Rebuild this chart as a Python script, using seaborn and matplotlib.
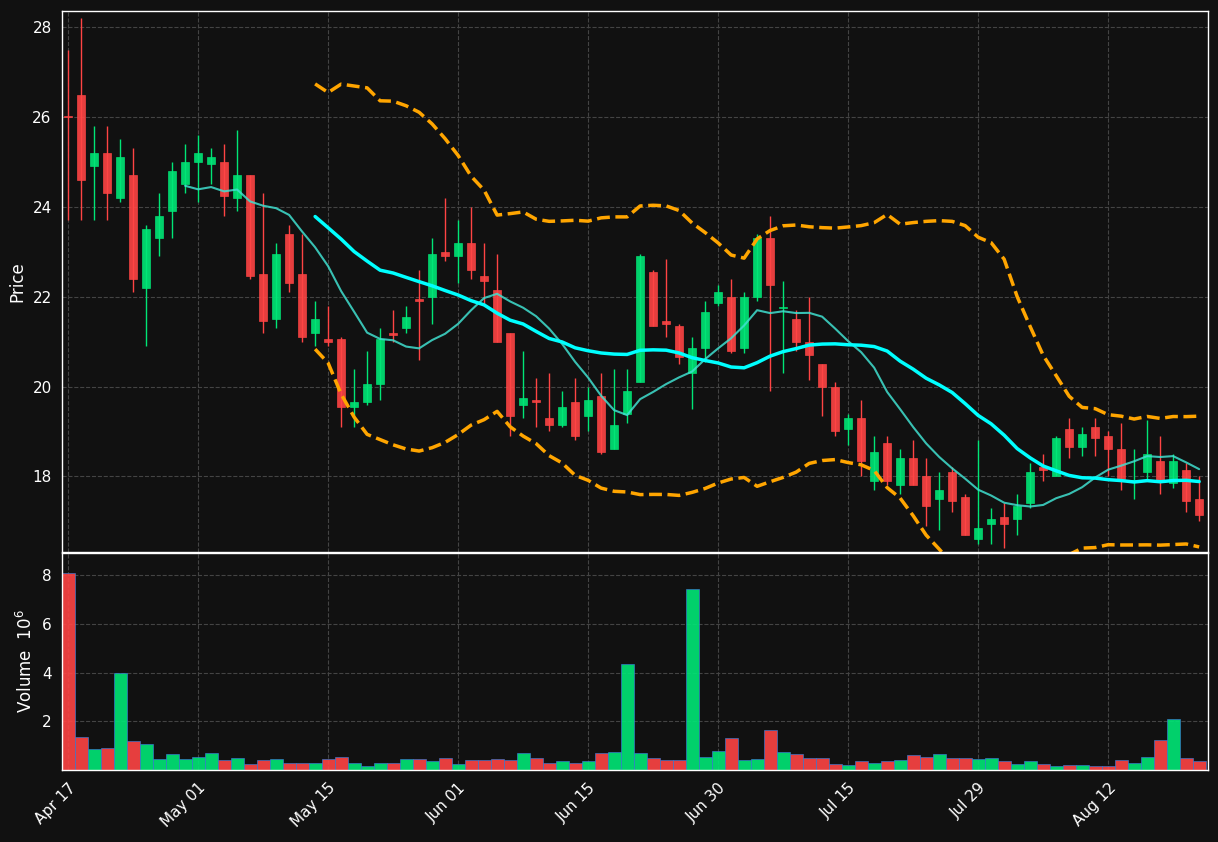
import numpy as np
import pandas as pd
import matplotlib
matplotlib.use("Agg")
import matplotlib.pyplot as plt
import seaborn as sns

opens = [26.0,26.5,24.9,25.2,24.2,24.7,22.2,23.3,23.9,24.5,25.0,24.95,25.0,24.2,24.7,22.5,21.5,23.4,22.5,21.2,
         21.05,21.05,19.55,19.65,20.05,21.2,21.3,21.95,22.0,23.0,22.9,23.2,22.45,22.15,21.2,19.6,19.7,19.3,19.15,19.65,
         19.35,19.8,18.6,19.4,20.1,22.55,21.45,21.35,20.3,20.85,21.85,22.0,20.85,22.0,23.3,21.74,21.5,21.0,20.5,20.0,
         19.05,19.3,17.9,18.75,17.8,18.4,18.0,17.5,18.1,17.55,16.6,16.95,17.1,17.05,17.4,18.2,18.0,19.05,18.65,19.1,
         18.9,18.6,17.9,18.1,18.35,17.85,18.15,17.5]
closes = [25.99,24.6,25.2,24.3,25.1,22.4,23.5,23.8,24.8,25.0,25.2,25.1,24.25,24.7,22.45,21.45,22.95,22.3,21.1,21.5,
          21.0,19.55,19.65,20.05,21.05,21.15,21.55,21.9,22.95,22.9,23.2,22.6,22.35,21.0,19.35,19.75,19.65,19.15,19.55,18.9,
          19.7,18.55,19.15,19.9,22.9,21.35,21.4,20.65,20.85,21.65,22.1,20.8,22.0,23.3,22.25,21.76,21.0,20.7,20.0,19.0,
          19.3,18.35,18.55,17.9,18.4,17.8,17.35,17.7,17.45,16.7,16.85,17.05,16.95,17.35,18.1,18.15,18.85,18.65,18.95,18.85,
          18.6,17.95,17.92,18.5,17.9,18.35,17.45,17.15]
highs = [27.5,28.2,25.8,25.8,25.5,25.3,23.6,24.3,25.0,25.4,25.6,25.3,25.4,25.7,24.7,24.3,23.2,23.6,23.4,21.9,
         21.8,21.1,20.4,20.8,21.3,21.7,21.8,22.6,23.3,24.2,23.7,24.0,23.2,22.95,21.2,20.8,20.2,20.3,19.9,20.2,
         20.0,20.3,20.4,20.4,22.95,22.6,22.85,21.4,21.1,21.9,22.25,22.4,22.1,23.4,23.8,22.35,21.7,22.0,20.5,20.1,
         19.4,19.7,18.9,18.9,18.6,18.8,18.4,18.1,18.2,17.6,18.8,17.3,17.4,17.6,18.3,18.5,18.9,19.3,19.1,19.3,
         19.0,19.2,18.6,19.25,18.9,18.5,18.3,18.0]
lows = [23.7,23.7,23.7,23.7,24.1,22.1,20.9,22.9,23.3,24.3,24.1,24.5,23.8,23.9,22.4,21.2,21.3,22.1,21.0,20.9,
        20.9,19.1,19.1,19.6,19.7,21.0,21.2,20.6,21.4,22.8,22.3,22.4,21.8,21.0,18.9,19.3,19.1,19.0,19.1,18.8,
        19.0,18.5,18.6,19.2,20.1,21.35,21.1,20.5,19.5,20.55,21.8,20.75,20.75,21.9,19.9,20.3,20.8,20.15,19.35,18.9,
        18.7,18.0,17.7,17.8,17.6,17.8,16.9,16.8,17.2,16.7,16.5,16.5,16.4,16.7,17.3,17.9,18.0,18.4,18.45,18.45,
        18.0,17.7,17.5,17.95,17.6,17.75,17.2,17.0]
volumes = [8.1,1.35,0.85,0.9,4.0,1.2,1.05,0.45,0.65,0.45,0.55,0.7,0.4,0.5,0.25,0.4,0.45,0.3,0.3,0.3,
           0.45,0.55,0.3,0.15,0.3,0.3,0.45,0.45,0.35,0.5,0.25,0.4,0.4,0.45,0.4,0.7,0.5,0.3,0.35,0.3,
           0.35,0.7,0.75,4.35,0.7,0.5,0.4,0.4,7.45,0.55,0.8,1.3,0.4,0.45,1.65,0.75,0.65,0.5,0.5,0.25,
           0.2,0.35,0.3,0.35,0.4,0.6,0.55,0.65,0.5,0.5,0.45,0.5,0.35,0.25,0.35,0.25,0.15,0.2,0.2,0.15,
           0.15,0.4,0.3,0.55,1.25,2.1,0.5,0.35]
tick_pos = [0,10,20,30,40,50,60,70,80]
tick_labels = ["Apr 17","May 01","May 15","Jun 01","Jun 15","Jun 30","Jul 15","Jul 29","Aug 12"]

UP, DOWN = "#00e676", "#ff4444"
BG = "#111111"
sns.set_theme(style="dark")
plt.rcParams.update({"figure.facecolor": BG, "axes.facecolor": BG, "text.color": "white",
                     "axes.labelcolor": "white", "xtick.color": "white", "ytick.color": "white",
                     "axes.edgecolor": "white", "axes.linewidth": 1.0})
plt.rcParams['font.family'] = ['DejaVu Sans']

df = pd.DataFrame({"o": opens, "h": highs, "l": lows, "c": closes, "v": volumes})
df["i"] = np.arange(len(df))
df["ma10"] = df["c"].rolling(10).mean()
df["ma20"] = df["c"].rolling(20).mean()
sd = df["c"].rolling(20).std()
df["up"] = df["ma20"] + 2 * sd
df["lo"] = df["ma20"] - 2 * sd
cols = [UP if c >= o else DOWN for o, c in zip(df["o"], df["c"])]

fig = plt.figure(figsize=(12.18, 8.42), dpi=100)
ax = fig.add_axes([0.051, 0.344, 0.941, 0.643])
axv = fig.add_axes([0.051, 0.0855, 0.941, 0.2575], sharex=ax)

ax.vlines(df["i"], df["l"], df["h"], colors=cols, linewidth=1)
body_b = np.minimum(df["o"], df["c"])
body_h = np.maximum(np.abs(df["c"] - df["o"]), 0.03)
ax.bar(df["i"], body_h, bottom=body_b, width=0.6, color=cols, edgecolor=cols, linewidth=0.5, alpha=0.9)
sns.lineplot(data=df, x="i", y="ma10", ax=ax, color="#40e0d0", linewidth=1.5, alpha=0.85)
sns.lineplot(data=df, x="i", y="ma20", ax=ax, color="#00ffff", linewidth=2.5)
sns.lineplot(data=df, x="i", y="up", ax=ax, color="#ffa500", linewidth=2.5, linestyle="--")
sns.lineplot(data=df, x="i", y="lo", ax=ax, color="#ffa500", linewidth=2.5, linestyle="--")
ax.set_ylim(16.31, 28.36)
ax.set_xlim(-0.46, 87.7)
ax.set_ylabel("Price")
ax.set_xlabel("")
ax.grid(True, color="#444444", linestyle="--", linewidth=0.8)
ax.tick_params(labelbottom=False)
ax.set_yticks([18, 20, 22, 24, 26, 28])

axv.bar(df["i"], df["v"], width=1.0, color=cols, edgecolor="#3a7bd5", linewidth=0.5, alpha=0.9)
axv.set_ylim(0, 8.9)
axv.set_yticks([2, 4, 6, 8])
axv.set_ylabel("Volume  $10^6$")
axv.grid(True, color="#444444", linestyle="--", linewidth=0.8)
axv.set_xticks(tick_pos)
axv.set_xticklabels(tick_labels, rotation=45, ha="right", rotation_mode="anchor")
for a in (ax, axv):
    for s in a.spines.values():
        s.set_color("white")
    a.tick_params(length=4, color="white")

fig.savefig("out.png", dpi=100, facecolor=BG)
